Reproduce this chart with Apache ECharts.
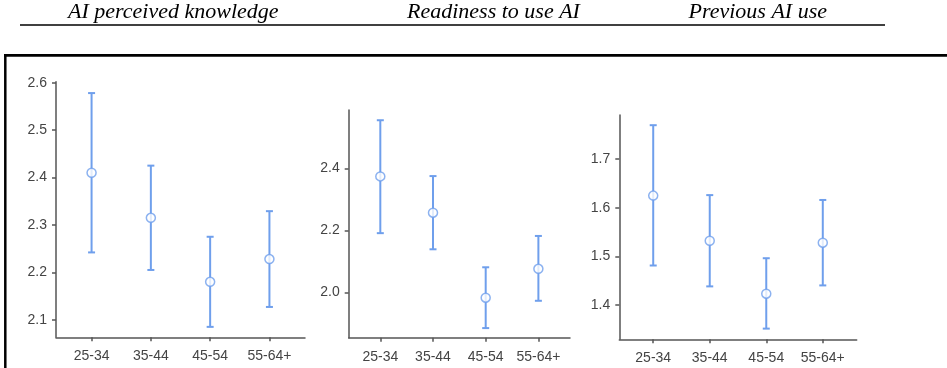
<!DOCTYPE html>
<html>
<head>
<meta charset="utf-8">
<title>AI by age group</title>
<script src="https://cdn.jsdelivr.net/npm/echarts@6/dist/echarts.min.js"></script>
<style>
  html, body { margin: 0; padding: 0; background: #fff; }
  #main { width: 947px; height: 368px; }
</style>
</head>
<body>
<div id="main"></div>
<script>
(function() {
  'use strict';

  // 年龄组
  var categories = ['25-34', '35-44', '45-54', '55-64+'];

  // AI perceived knowledge
  var knowMean = [2.410, 2.315, 2.180, 2.228];
  var knowLow = [2.242, 2.205, 2.085, 2.127];
  var knowHigh = [2.578, 2.425, 2.275, 2.329];
  var knowTicks = [2.1, 2.2, 2.3, 2.4, 2.5, 2.6];

  // Readiness to use AI
  var readyMean = [2.374, 2.257, 1.983, 2.076];
  var readyLow = [2.191, 2.139, 1.885, 1.973];
  var readyHigh = [2.555, 2.375, 2.081, 2.182];
  var readyTicks = [2.0, 2.2, 2.4];

  // Previous AI use
  var prevMean = [1.625, 1.532, 1.423, 1.528];
  var prevLow = [1.481, 1.438, 1.351, 1.440];
  var prevHigh = [1.770, 1.626, 1.496, 1.616];
  var prevTicks = [1.4, 1.5, 1.6, 1.7];

  var titles = ['AI perceived knowledge', 'Readiness to use AI', 'Previous AI use'];

  var blue = '#6f9fec';
  var axisColor = '#555';
  var labelColor = '#444';

  var panels = [
    { mean: knowMean, low: knowLow, high: knowHigh, ticks: knowTicks,
      grid: { left: 56, right: 642, top: 81.7, bottom: 30.7 }, ymin: 2.063, ymax: 2.602 },
    { mean: readyMean, low: readyLow, high: readyHigh, ticks: readyTicks,
      grid: { left: 348.7, right: 377, top: 110, bottom: 30.3 }, ymin: 1.854, ymax: 2.588 },
    { mean: prevMean, low: prevLow, high: prevHigh, ticks: prevTicks,
      grid: { left: 619.3, right: 90.3, top: 115, bottom: 28.7 }, ymin: 1.329, ymax: 1.791 }
  ];

  function renderBar(params, api) { // 误差线
    var x = api.value(0);
    var top = api.coord([x, api.value(2)]);
    var bot = api.coord([x, api.value(1)]);
    var w = 3.5;
    var st = { stroke: blue, lineWidth: 2 };
    return {
      type: 'group',
      children: [
        { type: 'line', shape: { x1: top[0], y1: top[1], x2: bot[0], y2: bot[1] }, style: st },
        { type: 'line', shape: { x1: top[0] - w, y1: top[1], x2: top[0] + w, y2: top[1] }, style: st },
        { type: 'line', shape: { x1: bot[0] - w, y1: bot[1], x2: bot[0] + w, y2: bot[1] }, style: st }
      ]
    };
  }

  var idx = [0, 1, 2, 3];
  var grids = [], xAxes = [], yAxes = [], series = [];

  for (var i = 0; i < panels.length; i++) {
    var p = panels[i];
    grids.push(p.grid);
    xAxes.push({
      type: 'value',
      gridIndex: i,
      min: -0.6,
      max: 3.6,
      splitLine: { show: false },
      axisLine: { show: true, onZero: false, lineStyle: { color: axisColor, width: 1.5 } },
      axisTick: { show: true, length: 4, customValues: idx, lineStyle: { color: axisColor, width: 1.5 } },
      axisLabel: {
        customValues: idx,
        margin: 12,
        color: labelColor,
        fontFamily: 'Liberation Sans',
        fontSize: 14,
        formatter: function(v) { return categories[Math.round(v)]; }
      }
    });
    yAxes.push({
      type: 'value',
      gridIndex: i,
      min: p.ymin,
      max: p.ymax,
      splitLine: { show: false },
      axisLine: { show: true, onZero: false, lineStyle: { color: axisColor, width: 1.5 } },
      axisTick: { show: true, length: 4, customValues: p.ticks, lineStyle: { color: axisColor, width: 1.5 } },
      axisLabel: {
        customValues: p.ticks,
        margin: 9,
        color: labelColor,
        fontFamily: 'Liberation Sans',
        fontSize: 14,
        formatter: function(v) { return v.toFixed(1); }
      }
    });

    var barData = [], ptData = [];
    for (var k = 0; k < categories.length; k++) {
      barData.push([k, p.low[k], p.high[k]]);
      ptData.push([k, p.mean[k]]);
    }
    series.push({
      type: 'custom',
      xAxisIndex: i,
      yAxisIndex: i,
      renderItem: renderBar,
      data: barData,
      z: 2
    });
    series.push({
      type: 'scatter',
      xAxisIndex: i,
      yAxisIndex: i,
      symbol: 'circle',
      symbolSize: 9,
      itemStyle: { color: '#fff', borderColor: blue, borderWidth: 1.5 },
      data: ptData,
      z: 3
    });
  }

  // 标题和框线
  var titleFont = 'italic 22px "Liberation Serif"';
  var graphic = [
    { type: 'text', left: 68, top: 1, style: { text: titles[0], font: titleFont, fill: '#000' } },
    { type: 'text', left: 407, top: 1, style: { text: titles[1], font: titleFont, fill: '#000' } },
    { type: 'text', right: 120, top: 1, style: { text: titles[2], font: titleFont, fill: '#000' } },
    { type: 'line', shape: { x1: 20, y1: 25, x2: 885, y2: 25 }, style: { stroke: '#000', lineWidth: 1.3 } },
    { type: 'line', shape: { x1: 4, y1: 55.4, x2: 947, y2: 55.4 }, style: { stroke: '#000', lineWidth: 2.8 } },
    { type: 'line', shape: { x1: 5.3, y1: 54, x2: 5.3, y2: 368 }, style: { stroke: '#000', lineWidth: 2.5 } }
  ];

  var myChart = echarts.init(document.getElementById('main'));
  myChart.setOption({
    animation: false,
    grid: grids,
    xAxis: xAxes,
    yAxis: yAxes,
    series: series,
    graphic: graphic
  });
}());
</script>
</body>
</html>
